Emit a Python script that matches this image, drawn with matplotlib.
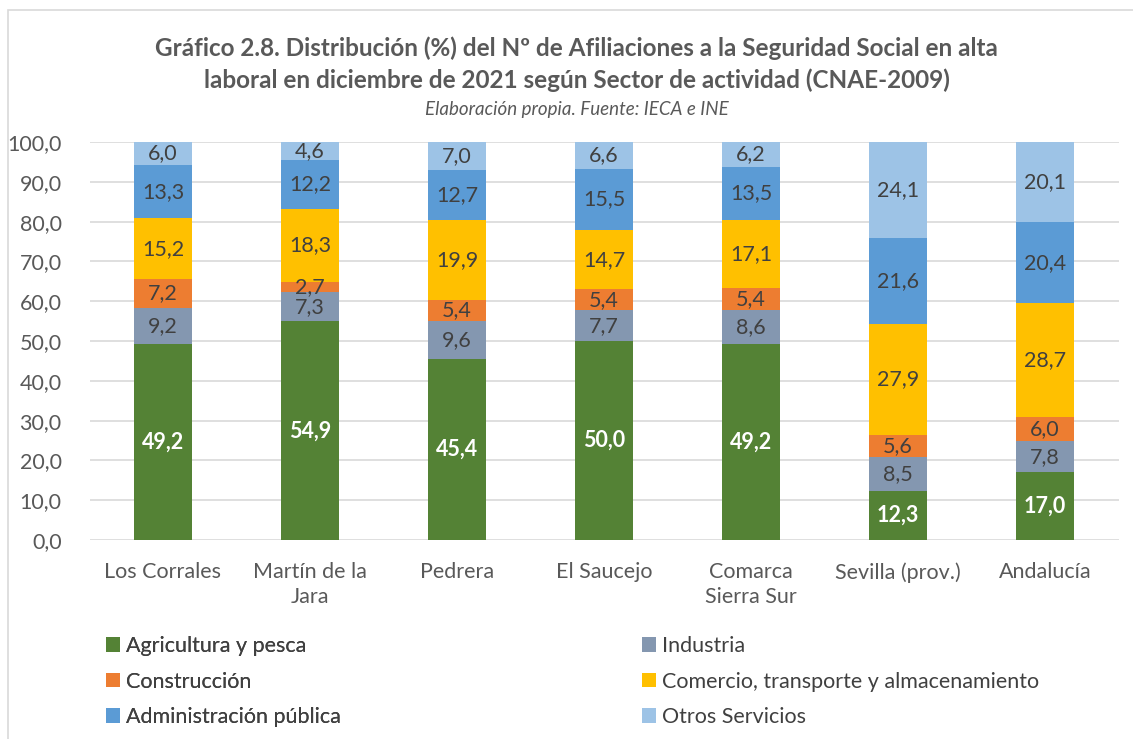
import matplotlib
matplotlib.use("Agg")
import matplotlib.pyplot as plt
from matplotlib.patches import Rectangle
import numpy as np

plt.rcParams['font.family'] = ['Lato', 'DejaVu Sans']

categories = ["Los Corrales", "Martín de la\nJara", "Pedrera", "El Saucejo",
              "Comarca\nSierra Sur", "Sevilla (prov.)", "Andalucía"]
series_names = ["Agricultura y pesca", "Industria", "Construcción",
                "Comercio, transporte y almacenamiento", "Administración pública",
                "Otros Servicios"]
agricultura = [49.2, 54.9, 45.4, 50.0, 49.2, 12.3, 17.0]
industria = [9.2, 7.3, 9.6, 7.7, 8.6, 8.5, 7.8]
construccion = [7.2, 2.7, 5.4, 5.4, 5.4, 5.6, 6.0]
comercio = [15.2, 18.3, 19.9, 14.7, 17.1, 27.9, 28.7]
administracion = [13.3, 12.2, 12.7, 15.5, 13.5, 21.6, 20.4]
otros = [6.0, 4.6, 7.0, 6.6, 6.2, 24.1, 20.1]
yticks = [0, 10, 20, 30, 40, 50, 60, 70, 80, 90, 100]

series = [agricultura, industria, construccion, comercio, administracion, otros]
colors = ["#548235", "#8497B0", "#ED7D31", "#FFC000", "#5B9BD5", "#9DC3E6"]

W, H = 1133, 739
fig = plt.figure(figsize=(W / 100, H / 100), dpi=100)
ax = fig.add_axes([89.5 / W, (H - 540) / H, (1118.5 - 89.5) / W, (540 - 142) / H])

x = np.arange(len(categories))
bottom = np.zeros(len(categories))
bars_all = []
for vals, col, name in zip(series, colors, series_names):
    vals = np.array(vals)
    bars = ax.bar(x, vals, 0.4, bottom=bottom, color=col, label=name, zorder=3)
    bars_all.append(bars)
    for xi, b, v in zip(x, bottom, vals):
        if name == "Agricultura y pesca":
            ax.text(xi, b + v / 2, f"{v:.1f}".replace('.', ','), ha='center', va='center',
                    color='white', fontsize=15.5, fontweight='bold', zorder=4)
        else:
            ax.text(xi, b + v / 2, f"{v:.1f}".replace('.', ','), ha='center', va='center',
                    color='#404040', fontsize=15.5, zorder=4)
    bottom = bottom + vals

ax.set_ylim(0, 100)
ax.set_xlim(-0.5, len(categories) - 0.5)
ax.set_yticks(yticks)
ax.set_yticklabels([f"{t:.1f}".replace('.', ',') for t in yticks], fontsize=15.5, color='#595959')
ax.set_xticks(x)
ax.set_xticklabels(categories, fontsize=15.5, color='#595959', linespacing=1.3)
ax.tick_params(axis='both', length=0)
ax.tick_params(axis='x', pad=16)
ax.tick_params(axis='y', pad=20)
ax.grid(axis='y', color='#D9D9D9', linewidth=1.2, zorder=0)
for s in ax.spines.values():
    s.set_visible(False)

cx = 0.5 + 10 / W
fig.text(cx, 1 - 48 / H, "Gráfico 2.8. Distribución (%) del Nº de Afiliaciones a la Seguridad Social en alta",
         ha='center', va='center', fontsize=17.5, fontweight='bold', color='#595959')
fig.text(cx, 1 - 80 / H, "laboral en diciembre de 2021 según Sector de actividad (CNAE-2009)",
         ha='center', va='center', fontsize=17.5, fontweight='bold', color='#595959')
fig.text(cx, 1 - 110 / H, "Elaboración propia. Fuente: IECA e INE",
         ha='center', va='center', fontsize=13.5, style='italic', color='#595959')

handles = [b.patches[0] for b in bars_all]
order1 = [0, 2, 4]
order2 = [1, 3, 5]
kw = dict(loc='upper left', ncol=1, frameon=False, fontsize=15.5, labelcolor='#404040',
          handlelength=0.65, handleheight=0.65, handletextpad=0.3, labelspacing=0.72,
          borderaxespad=0, borderpad=0)
leg1 = fig.legend([handles[i] for i in order1], [series_names[i] for i in order1],
                  bbox_to_anchor=(106 / W, 1 - 636 / H), **kw)
leg2 = fig.legend([handles[i] for i in order2], [series_names[i] for i in order2],
                  bbox_to_anchor=(642 / W, 1 - 636 / H), **kw)
fig.add_artist(leg1)

fig.add_artist(Rectangle((8 / W, -0.1), 1.2, 1 - 10 / H + 0.1, transform=fig.transFigure,
                         fill=False, edgecolor='#D9D9D9', linewidth=1.2))

fig.savefig("out.png", dpi=100)
